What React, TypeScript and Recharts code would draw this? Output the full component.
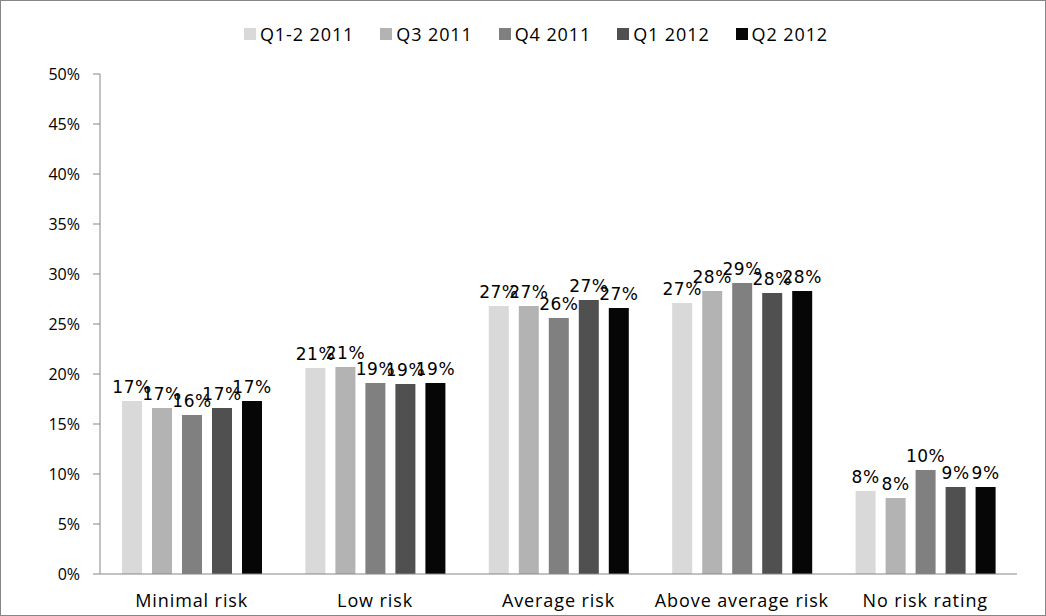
import React from 'react';
import { BarChart, Bar, XAxis, YAxis, LabelList, Legend } from 'recharts';

// Share of portfolio by risk class, per reporting period (values in %)
const categories = ['Minimal risk', 'Low risk', 'Average risk', 'Above average risk', 'No risk rating'];
const seriesNames = ['Q1-2 2011', 'Q3 2011', 'Q4 2011', 'Q1 2012', 'Q2 2012'];
const q12_2011 = [17.3, 20.6, 26.8, 27.1, 8.3];
const q3_2011 = [16.6, 20.7, 26.8, 28.3, 7.6];
const q4_2011 = [15.9, 19.1, 25.6, 29.1, 10.4];
const q1_2012 = [16.6, 19.0, 27.4, 28.1, 8.7];
const q2_2012 = [17.3, 19.1, 26.6, 28.3, 8.7];
const yTicks = [0, 5, 10, 15, 20, 25, 30, 35, 40, 45, 50];

const seriesValues = [q12_2011, q3_2011, q4_2011, q1_2012, q2_2012];
const seriesColors = ['#D9D9D9', '#B3B3B3', '#808080', '#505050', '#060606'];
const seriesKeys = ['s0', 's1', 's2', 's3', 's4'];

const data = categories.map((name, i) => {
  const row: Record<string, string | number> = { name };
  seriesKeys.forEach((k, j) => {
    row[k] = seriesValues[j][i];
  });
  return row;
});

const axisColor = '#868686';
const labelFont = '"Open Sans", "Noto Sans", sans-serif';
const valueFont = '"DejaVu Sans", Verdana, sans-serif';

const CategoryTick = (props: any) => {
  const { x, y, payload } = props;
  return (
    <text
      x={x}
      y={y + 33}
      textAnchor="middle"
      fill="#000"
      fontSize={18}
      fontFamily={labelFont}
      style={{ letterSpacing: '0.9px' }}
    >
      {payload.value}
    </text>
  );
};

const LegendContent = () => (
  <div
    style={{
      display: 'flex',
      justifyContent: 'center',
      alignItems: 'center',
      fontFamily: labelFont,
      fontSize: 18,
      letterSpacing: '0.9px',
      color: '#000',
      lineHeight: '20px',
    }}
  >
    {seriesNames.map((n, i) => (
      <div key={n} style={{ display: 'flex', alignItems: 'center', marginRight: i < seriesNames.length - 1 ? 26 : 0 }}>
        <span style={{ display: 'inline-block', width: 12, height: 12, background: seriesColors[i], marginRight: 4 }} />
        <span>{n}</span>
      </div>
    ))}
  </div>
);

export default function App() {
  return (
    <div
      style={{
        position: 'absolute',
        left: 0,
        top: 0,
        width: 1044,
        height: 614,
        border: `1px solid ${axisColor}`,
        background: '#fff',
      }}
    >
      <BarChart
        width={1044}
        height={614}
        data={data}
        margin={{ top: 53, right: 28, bottom: 0, left: 0 }}
        barCategoryGap={22}
        barGap={10}
      >
        <Legend
          verticalAlign="top"
          height={20}
          content={<LegendContent />}
          wrapperStyle={{ position: 'absolute', top: 23, left: 13, width: 1044 }}
        />
        <XAxis
          dataKey="name"
          height={41}
          axisLine={{ stroke: axisColor, strokeWidth: 1 }}
          tickLine={false}
          tickSize={0}
          tickMargin={0}
          tick={<CategoryTick />}
          interval={0}
        />
        <YAxis
          domain={[0, 50]}
          ticks={yTicks}
          width={99}
          tickFormatter={(v: number) => `${v}%`}
          axisLine={{ stroke: axisColor, strokeWidth: 1 }}
          tickLine={{ stroke: axisColor, strokeWidth: 1 }}
          tickSize={7}
          tickMargin={13}
          tick={{ fill: '#000', fontSize: 16, fontFamily: labelFont }}
          interval={0}
        />
        {seriesKeys.map((k, i) => (
          <Bar key={k} dataKey={k} name={seriesNames[i]} fill={seriesColors[i]} isAnimationActive={false}>
            <LabelList
              dataKey={k}
              position="top"
              offset={8}
              formatter={(v: any) => `${Math.round(Number(v))}%`}
              style={{ fill: '#000', fontSize: 17, fontFamily: valueFont, letterSpacing: '0.5px' }}
            />
          </Bar>
        ))}
      </BarChart>
    </div>
  );
}
